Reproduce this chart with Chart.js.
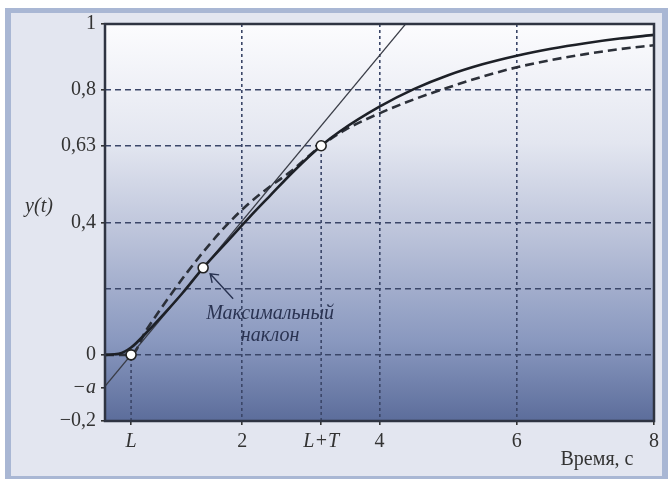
<!DOCTYPE html>
<html>
<head>
<meta charset="utf-8">
<script src="https://cdn.jsdelivr.net/npm/chart.js@4.4.0/dist/chart.umd.min.js"></script>
<style>
html, body { margin: 0; padding: 0; background: #fff; }
canvas { display: block; }
</style>
</head>
<body>
<canvas id="myChart" width="668" height="479"></canvas>
<script>
// key points
const L = 0.38;
const LT = 3.15;
const y63 = 0.632;

// solid curve (real response)
const solidTime = [0, 0.2, 0.38, 0.64, 0.9, 1.13, 1.43, 1.8, 2.1, 2.4, 2.75, 3.15, 3.42, 4, 4.5, 5, 5.5, 6, 6.5, 7, 7.5, 8];
const solidY = [0, 0.003, 0.022, 0.075, 0.133, 0.187, 0.263, 0.347, 0.415, 0.48, 0.555, 0.632, 0.675, 0.75, 0.803, 0.845, 0.878, 0.904, 0.925, 0.942, 0.956, 0.967];

// dashed curve (approximation)
const dashedTime = [0, 0.38, 0.6, 0.9, 1.2, 1.5, 1.8, 2.1, 2.4, 2.7, 3.15, 3.5, 4, 4.5, 5, 5.5, 6, 6.5, 7, 7.5, 8];
const dashedY = [0, 0, 0.074, 0.165, 0.25, 0.328, 0.398, 0.458, 0.508, 0.553, 0.632, 0.68, 0.73, 0.772, 0.808, 0.841, 0.869, 0.891, 0.909, 0.924, 0.936];

// tangent at the max slope point
const tangentX = [0, 4.38];
const tangentY = [-0.095, 1];

// white circles
const markX = [L, 1.43, LT];
const markY = [0, 0.263, y63];

// axes
const yTicks = [1, 0.8, y63, 0.4, 0.2, 0, -0.1, -0.2];
const yTickLabels = ['1', '0,8', '0,63', '0,4', '', '0', '\u2212a', '\u22120,2'];
const yGridAt = [0.8, 0.4, 0.2, 0];
const xTicks = [L, 2, LT, 4, 6, 8];
const xTickLabels = ['L', '2', 'L+T', '4', '6', '8'];
const xGridAt = [2, 4, 6];

const gridColor = '#3b4668';
const serif = '"Liberation Serif", "DejaVu Serif", serif';

function pts(xs, ys) {
    return xs.map((x, i) => ({ x: x, y: ys[i] }));
}

// background frame + gradient plot area
const backgroundPlugin = {
    id: 'bg',
    beforeDraw(chart) {
        const c = chart.ctx;
        const a = chart.chartArea;
        c.save();
        c.fillStyle = '#ffffff';
        c.fillRect(0, 0, chart.width, chart.height);
        c.fillStyle = '#a9b7d4';
        c.fillRect(5, 8, chart.width - 5, chart.height - 8);
        c.fillStyle = '#e3e6f0';
        c.fillRect(11, 13, chart.width - 17, chart.height - 16);
        const g = c.createLinearGradient(0, a.top, 0, a.bottom);
        g.addColorStop(0, '#fcfcfe');
        g.addColorStop(0.3, '#e3e6f0');
        g.addColorStop(0.55, '#b8c0d8');
        g.addColorStop(0.8, '#8998bf');
        g.addColorStop(1, '#5c6d9b');
        c.fillStyle = g;
        c.fillRect(a.left, a.top, a.right - a.left, a.bottom - a.top);
        c.restore();
    },
    afterDatasetsDraw(chart) {
        const c = chart.ctx;
        const a = chart.chartArea;
        c.save();
        c.strokeStyle = '#2f3442';
        c.lineWidth = 2.5;
        c.strokeRect(a.left, a.top, a.right - a.left, a.bottom - a.top);

        // arrow + label for max slope
        const px = chart.scales.x.getPixelForValue(markX[1]);
        const py = chart.scales.y.getPixelForValue(markY[1]);
        const hx = px + 7, hy = py + 6;
        const tx = px + 30, ty = py + 31;
        c.strokeStyle = '#283250';
        c.lineWidth = 1.4;
        c.beginPath();
        c.moveTo(tx, ty);
        c.lineTo(hx, hy);
        c.moveTo(hx + 9, hy + 1);
        c.lineTo(hx, hy);
        c.lineTo(hx + 2, hy + 9);
        c.stroke();

        c.fillStyle = '#2a3352';
        c.font = 'italic 20px ' + serif;
        c.textAlign = 'center';
        c.textBaseline = 'alphabetic';
        c.fillText('Максимальный', px + 67, py + 51);
        c.fillText('наклон', px + 67, py + 73);

        // axis names
        c.fillStyle = '#333333';
        c.font = 'italic 20px ' + serif;
        c.textBaseline = 'middle';
        c.fillText('y(t)', 39, 207);
        c.font = '20px ' + serif;
        c.fillText('Время, с', 597, 460);
        c.restore();
    }
};

const guideStyle = {
    borderColor: gridColor,
    borderWidth: 1.6,
    borderDash: [3, 3],
    pointRadius: 0,
    fill: false,
    tension: 0,
    order: 10
};

new Chart(document.getElementById('myChart'), {
    type: 'line',
    data: {
        datasets: [
            {
                data: pts(markX, markY),
                showLine: false,
                pointRadius: 5,
                pointBackgroundColor: '#ffffff',
                pointBorderColor: '#222',
                pointBorderWidth: 1.6,
                order: 0
            },
            {
                data: pts(solidTime, solidY),
                borderColor: '#1d2027',
                borderWidth: 2.6,
                pointRadius: 0,
                cubicInterpolationMode: 'monotone',
                order: 1
            },
            {
                data: pts(dashedTime, dashedY),
                borderColor: '#2c3039',
                borderWidth: 2.6,
                borderDash: [9, 5],
                pointRadius: 0,
                cubicInterpolationMode: 'monotone',
                order: 2
            },
            {
                data: pts(tangentX, tangentY),
                borderColor: '#3a3d47',
                borderWidth: 1.2,
                pointRadius: 0,
                order: 3
            },
            Object.assign({ data: [{ x: L, y: -0.2 }, { x: L, y: 0 }] }, guideStyle),
            Object.assign({ data: [{ x: LT, y: -0.2 }, { x: LT, y: y63 }] }, guideStyle),
            Object.assign({ data: [{ x: 0, y: y63 }, { x: LT, y: y63 }] }, guideStyle, { borderDash: [6, 4] })
        ]
    },
    options: {
        responsive: false,
        animation: false,
        layout: { padding: { left: 0, top: 24, right: 14, bottom: 0 } },
        plugins: { legend: { display: false }, tooltip: { enabled: false } },
        scales: {
            x: {
                type: 'linear',
                min: 0,
                max: 8,
                afterBuildTicks: (s) => { s.ticks = xTicks.map(v => ({ value: v })); },
                afterFit: (s) => { s.height = 58; },
                border: { display: false, dash: [3, 3] },
                grid: {
                    color: (ctx) => (ctx.tick && xGridAt.includes(ctx.tick.value)) ? gridColor : 'rgba(0,0,0,0)',
                    lineWidth: 1.6,
                    tickLength: 4,
                    tickColor: '#333'
                },
                ticks: {
                    autoSkip: false,
                    maxRotation: 0,
                    padding: 5,
                    color: '#333333',
                    font: (ctx) => ({
                        family: serif,
                        size: 20,
                        style: (ctx.tick && (ctx.tick.value === L || ctx.tick.value === LT)) ? 'italic' : 'normal'
                    }),
                    callback: (v, i) => xTickLabels[i]
                }
            },
            y: {
                type: 'linear',
                min: -0.2,
                max: 1,
                afterBuildTicks: (s) => { s.ticks = yTicks.map(v => ({ value: v })); },
                afterFit: (s) => { s.width = 105; },
                border: { display: false, dash: [6, 4] },
                grid: {
                    color: (ctx) => (ctx.tick && yGridAt.includes(ctx.tick.value)) ? gridColor : 'rgba(0,0,0,0)',
                    lineWidth: 1.6,
                    tickLength: 4,
                    tickColor: (ctx) => (ctx.tick && ctx.tick.value === 0.2) ? 'rgba(0,0,0,0)' : '#333'
                },
                ticks: {
                    autoSkip: false,
                    padding: 5,
                    color: '#333333',
                    font: (ctx) => ({
                        family: serif,
                        size: 20,
                        style: (ctx.tick && ctx.tick.value === -0.1) ? 'italic' : 'normal'
                    }),
                    callback: (v, i) => yTickLabels[i]
                }
            }
        }
    },
    plugins: [backgroundPlugin]
});
</script>
</body>
</html>
